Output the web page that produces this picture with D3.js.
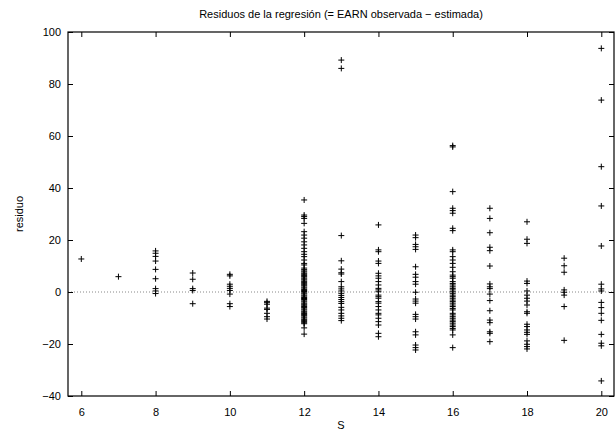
<!DOCTYPE html>
<html>
<head>
<meta charset="utf-8">
<script src="https://cdn.jsdelivr.net/npm/d3@7"></script>
<style>
  body { margin: 0; background: #fff; }
  text { font-family: "Liberation Sans", Arial, sans-serif; }
</style>
</head>
<body>
<div id="chart"></div>
<script>
// years of schooling (S) and regression residuals per S value
const schooling = [6, 7, 8, 9, 10, 11, 12, 13, 14, 15, 16, 17, 18, 19, 20]
const residuals = [
  [12.7],
  [5.9],
  [15.8, 14.9, 13.7, 11.9, 8.7, 5.1, 1.3, 0.4, -0.6],
  [7.3, 4.9, 1.3, 0.6, -4.5],
  [6.8, 6.2, 3.0, 2.2, 1.4, 0.6, -0.8, -4.5, -5.6],
  [-3.6, -4.1, -4.7, -6.2, -6.7, -8.2, -9.5, -10.4],
  [35.4, 29.6, 29.0, 28.3, 26.4, 23.2, 21.9, 20.7, 19.3, 18.1, 16.8, 15.5, 14.5, 13.6,
   12.3, 11.0, 10.4, 9.2, 8.6, 8.1, 7.7, 7.2, 6.8, 6.3, 5.9, 5.4, 5.0, 4.6, 4.1, 3.7,
   3.2, 2.8, 2.4, 1.9, 1.5, 1.0, 0.6, 0.2, -0.3, -0.7, -1.2, -1.6, -2.1, -2.5, -2.9,
   -3.4, -3.8, -4.3, -4.7, -5.1, -5.6, -6.0, -6.5, -6.9, -7.4, -7.8, -8.3, -8.7, -9.1,
   -9.6, -10.0, -10.5, -10.9, -11.3, -11.8, -12.2, -13.8, -16.2],
  [89.2, 86.0, 21.7, 12.0, 8.8, 7.4, 6.9, 4.0, 2.0, 1.2, 0.4, -0.5, -1.3, -2.1, -2.9,
   -3.7, -4.4, -5.9, -6.9, -8.2, -9.2, -10.1, -11.0],
  [25.8, 16.2, 15.5, 11.9, 11.0, 7.2, 6.2, 5.3, 4.0, 2.7, 1.4, 0.8, 0.1, -1.2, -1.8,
   -2.4, -3.7, -4.3, -5.6, -6.9, -8.2, -8.8, -10.1, -11.4, -12.7, -15.9, -17.2],
  [21.9, 20.9, 18.3, 17.4, 16.4, 9.7, 6.8, 5.7, 4.0, 3.0, -0.1, -2.7, -3.5, -4.3,
   -8.6, -9.5, -10.4, -15.3, -16.5, -20.4, -21.4, -22.3],
  [56.3, 55.8, 38.6, 32.2, 31.3, 30.3, 24.5, 23.6, 16.2, 15.5, 13.6, 12.3, 11.0, 9.5,
   7.8, 6.5, 5.9, 5.3, 4.0, 3.3, 2.7, 2.0, 1.4, 0.8, 0.1, -0.5, -1.2, -1.8, -2.4, -3.1,
   -3.7, -4.3, -5.0, -5.6, -6.3, -6.9, -8.2, -8.8, -9.5, -10.1, -10.8, -11.4, -12.0,
   -12.7, -13.3, -14.0, -14.6, -16.5, -21.4],
  [32.2, 28.3, 22.8, 17.2, 15.9, 10.0, 3.1, 2.0, 1.3, -0.8, -3.3, -7.2, -10.8, -11.8,
   -15.3, -15.9, -19.1],
  [27.0, 20.3, 18.7, 4.2, 3.3, 0.4, -1.2, -2.4, -3.5, -5.0, -7.6, -8.2, -12.4, -13.3,
   -14.6, -15.5, -16.3, -18.8, -20.1, -21.0, -21.9],
  [13.0, 10.1, 7.6, 0.8, -0.1, -1.2, -5.6, -18.6],
  [93.7, 73.8, 48.2, 33.1, 17.7, 3.0, 1.2, 0.4, -4.0, -6.0, -8.2, -10.9, -16.3, -19.7,
   -20.7, -34.2]
]
const xTicks = [6, 8, 10, 12, 14, 16, 18, 20]
const yTicks = [-40, -20, 0, 20, 40, 60, 80, 100]
const titleText = 'Residuos de la regresión (= EARN observada \u2212 estimada)'
const xLabel = 'S'
const yLabel = 'residuo'

const WIDTH = 616
const HEIGHT = 435
const margin = {top: 32, right: 2, bottom: 39, left: 68}
const plotW = WIDTH - margin.left - margin.right
const plotH = HEIGHT - margin.top - margin.bottom

const points = []
schooling.forEach((s, i) => {
  residuals[i].forEach((r) => points.push({s: s, r: r}))
})

const x = d3.scaleLinear().domain([5.642, 20.342]).range([0, plotW])
const y = d3.scaleLinear().domain([-40, 100]).range([plotH, 0])

const svg = d3.select('#chart')
  .append('svg')
  .attr('width', WIDTH)
  .attr('height', HEIGHT)

const g = svg.append('g')
  .attr('transform', 'translate(' + margin.left + ',' + margin.top + ')')

// zero line
g.append('line')
  .attr('x1', 0).attr('x2', plotW)
  .attr('y1', y(0)).attr('y2', y(0))
  .attr('stroke', '#888')
  .attr('stroke-width', 1)
  .attr('stroke-dasharray', '1,2')

// axes, ticks drawn inwards and mirrored
const tick = 5
const styleAxis = (sel, labels) => {
  sel.select('.domain').remove()
  sel.selectAll('.tick line').attr('stroke', '#000')
  sel.selectAll('.tick text')
    .attr('font-size', 11)
    .attr('fill', '#000')
    .style('display', labels ? null : 'none')
}

g.append('g')
  .attr('transform', 'translate(0,' + plotH + ')')
  .call(d3.axisBottom(x).tickValues(xTicks).tickSizeInner(-tick).tickSizeOuter(0).tickPadding(12))
  .call((a) => styleAxis(a, true))

g.append('g')
  .call(d3.axisTop(x).tickValues(xTicks).tickSizeInner(-tick).tickSizeOuter(0))
  .call((a) => styleAxis(a, false))

g.append('g')
  .call(d3.axisLeft(y).tickValues(yTicks).tickSizeInner(-tick).tickSizeOuter(0).tickPadding(7))
  .call((a) => styleAxis(a, true))

g.append('g')
  .attr('transform', 'translate(' + plotW + ',0)')
  .call(d3.axisRight(y).tickValues(yTicks).tickSizeInner(-tick).tickSizeOuter(0))
  .call((a) => styleAxis(a, false))

// frame
g.append('rect')
  .attr('width', plotW)
  .attr('height', plotH)
  .attr('fill', 'none')
  .attr('stroke', '#000')
  .attr('stroke-width', 1.2)

// plus markers
const m = 3
g.append('g')
  .selectAll('path')
  .data(points)
  .enter()
  .append('path')
  .attr('d', (d) => {
    const px = x(d.s), py = y(d.r)
    return 'M' + (px - m) + ',' + py + 'H' + (px + m) + 'M' + px + ',' + (py - m) + 'V' + (py + m)
  })
  .attr('stroke', '#000')
  .attr('stroke-width', 1)
  .attr('fill', 'none')

// labels
svg.append('text')
  .attr('x', margin.left + plotW / 2)
  .attr('y', 18)
  .attr('text-anchor', 'middle')
  .attr('font-size', 11)
  .text(titleText)

svg.append('text')
  .attr('x', margin.left + plotW / 2)
  .attr('y', 429)
  .attr('text-anchor', 'middle')
  .attr('font-size', 11)
  .text(xLabel)

svg.append('text')
  .attr('transform', 'translate(23,' + (margin.top + plotH / 2) + ') rotate(-90)')
  .attr('text-anchor', 'middle')
  .attr('font-size', 11)
  .text(yLabel)
</script>
</body>
</html>
